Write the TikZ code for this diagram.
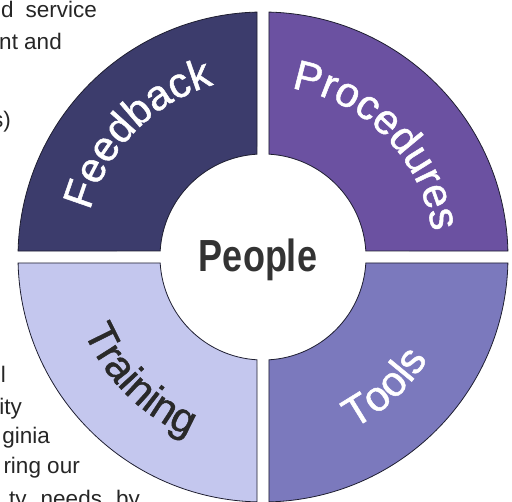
\documentclass[tikz,border=0pt]{standalone}
\usepackage{fontspec}
\setmainfont{Liberation Sans}
\newfontfamily\arcfamily[FakeBold=1.2]{Liberation Sans}
\usetikzlibrary{decorations.text}

\definecolor{feedcol}{RGB}{60,60,108}
\definecolor{procol}{RGB}{107,81,161}
\definecolor{toolcol}{RGB}{123,121,189}
\definecolor{traincol}{RGB}{196,199,238}
\definecolor{ringline}{RGB}{30,30,48}
\definecolor{peoplecol}{RGB}{51,51,51}

\newcommand{\arcfont}{\arcfamily\fontsize{42}{42}\selectfont}

\begin{document}
\begin{tikzpicture}[x=1pt,y=1pt,
    quad/.style={draw=ringline,line width=0.8pt},
    bodytext/.style={anchor=base east,inner sep=0pt,font=\fontsize{22.5}{26}\selectfont,text=black!85}]
        \useasboundingbox (-263,-245) rectangle (249,257);
        \clip (-263,-245) rectangle (249,257);

        % Page text
        \node[bodytext] (t1) at (-166,239) {d\hspace{12pt}service};
        \node[bodytext] (t2) at (-201,207) {nt and};
        \node[bodytext] (t3) at (-252,129) {s)};
        \node[bodytext] (t4) at (-257,-126) {l};
        \node[bodytext] (t5) at (-241,-158) {ity};
        \node[bodytext] (t6) at (-213,-187) {ginia};
        \node[bodytext] (t7) at (-183,-217) {ring our};
        \node[bodytext] (t8) at (-123,-250) {ty\hspace{14pt}needs\hspace{14pt}by};

        % Quadrants
        \foreach \ang/\col in {0/procol,90/feedcol,180/traincol,270/toolcol}{
            \draw[quad,fill=\col,rotate=\ang] (88.6:245pt) arc[start angle=88.6,end angle=1.4,radius=245pt]
                -- (3.34:103pt) arc[start angle=3.34,end angle=86.66,radius=103pt] -- cycle;
        }

        % Labels on the ring
        \path[decorate,decoration={text along path,text align=center,text color=white,
            text={|\arcfont|Feedback}}] (176:179pt) arc[start angle=176,end angle=95,radius=179pt];
        \path[decorate,decoration={text along path,text align=center,text color=white,
            text={|\arcfont|Procedures}}] (84:171pt) arc[start angle=84,end angle=5,radius=171pt];
        \path[decorate,decoration={text along path,text align=center,text color=white,
            text={|\arcfont|Tools}}] (273:194pt) arc[start angle=273,end angle=353,radius=194pt];
        \path[decorate,decoration={text along path,text align=center,text color=peoplecol!80!black,
            text={|\arcfont|Training}}] (185:194pt) arc[start angle=185,end angle=265,radius=194pt];

        % Centre
        \node[anchor=base,inner sep=0pt,text=peoplecol,font=\fontsize{45}{45}\selectfont\bfseries] (people) at (-5,-15) {\scalebox{0.8}[1]{People}};
\end{tikzpicture}
\end{document}
